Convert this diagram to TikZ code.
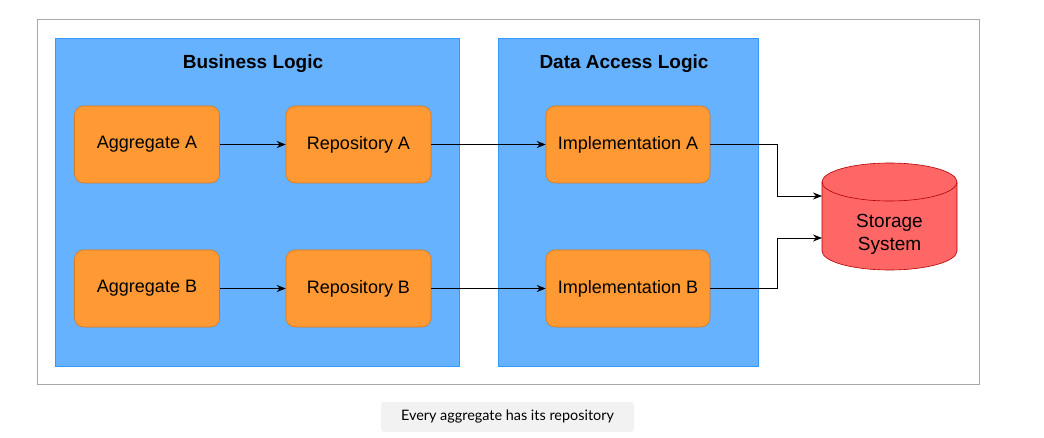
\documentclass[tikz,border=0pt]{standalone}
\usepackage{fontspec}
\setmainfont{Liberation Sans}
\newfontfamily\capfont{Lato}
\usetikzlibrary{arrows.meta}
\definecolor{bluefill}{HTML}{66B2FF}
\definecolor{blueline}{HTML}{3399FF}
\definecolor{orangefill}{HTML}{FF9933}
\definecolor{orangeline}{HTML}{D07A22}
\definecolor{redfill}{HTML}{FF6666}
\definecolor{redline}{HTML}{B20000}
\definecolor{framegray}{HTML}{A8A8A8}
\definecolor{capfill}{HTML}{F2F2F2}
\tikzset{
  layerbox/.style={draw=blueline, fill=bluefill, line width=0.8pt},
  compbox/.style={draw=orangeline, fill=orangefill, rounded corners=9pt, minimum width=145pt, minimum height=77pt, inner sep=0pt, font=\fontsize{18}{21}\selectfont, line width=0.6pt},
  titletext/.style={font=\fontsize{19}{22}\selectfont\bfseries},
  conn/.style={-{Stealth[length=9pt,width=7pt]}, line width=0.8pt, black},
}
\begin{document}
\begin{tikzpicture}[x=1pt,y=-1pt]
\useasboundingbox (0,0) rectangle (1044,438);
% outer frame
\draw[framegray, line width=0.8pt] (37,19) rectangle (979,384);
% layer boxes
\draw[layerbox] (55,38) rectangle (459,366);
\draw[layerbox] (498,38) rectangle (758,366);
\node[titletext] (tbl) at (253,64) {Business Logic};
\node[titletext] (tdal) at (624,64) {Data Access Logic};
% components
\node[compbox] (aggA) at (147,144.5) {\raisebox{-1.5pt}{Aggregate A}};
\node[compbox] (repA) at (358.5,144.5) {\raisebox{-1.5pt}{Repository A}};
\node[compbox, minimum width=164pt] (impA) at (628,144.5) {\raisebox{-1.5pt}{Implementation A}};
\node[compbox] (aggB) at (147,288.5) {\raisebox{-1.5pt}{Aggregate B}};
\node[compbox] (repB) at (358.5,288.5) {\raisebox{-1.5pt}{Repository B}};
\node[compbox, minimum width=164pt] (impB) at (628,288.5) {\raisebox{-1.5pt}{Implementation B}};
% storage cylinder (drawn directly)
\filldraw[draw=redline, fill=redfill, line width=0.6pt]
  (822,182) -- (822,251) arc[start angle=180, end angle=360, x radius=67.5pt, y radius=19pt]
  -- (957,182) arc[start angle=0, end angle=180, x radius=67.5pt, y radius=19pt] -- cycle;
\draw[draw=redline, line width=0.6pt]
  (822,182) arc[start angle=180, end angle=360, x radius=67.5pt, y radius=19pt];
\node[align=center, font=\fontsize{19}{23}\selectfont] (store) at (889.5,234.5) {Storage\\System};
\coordinate (inA) at (822,196);
\coordinate (inB) at (822,238);
% connectors
\draw[conn] (aggA) -- (repA);
\draw[conn] (aggB) -- (repB);
\draw[conn] (repA) -- (impA);
\draw[conn] (repB) -- (impB);
\draw[conn] (impA.east) -| (777,196) -- (inA);
\draw[conn] (impB.east) -| (777,238) -- (inB);
% caption
\node[fill=capfill, rounded corners=3pt, minimum width=253pt, minimum height=30pt, inner sep=0pt,
      font=\capfont\fontsize{14.4}{16}\selectfont] (cap) at (507.5,417) {Every aggregate has its repository};
\end{tikzpicture}
\end{document}
